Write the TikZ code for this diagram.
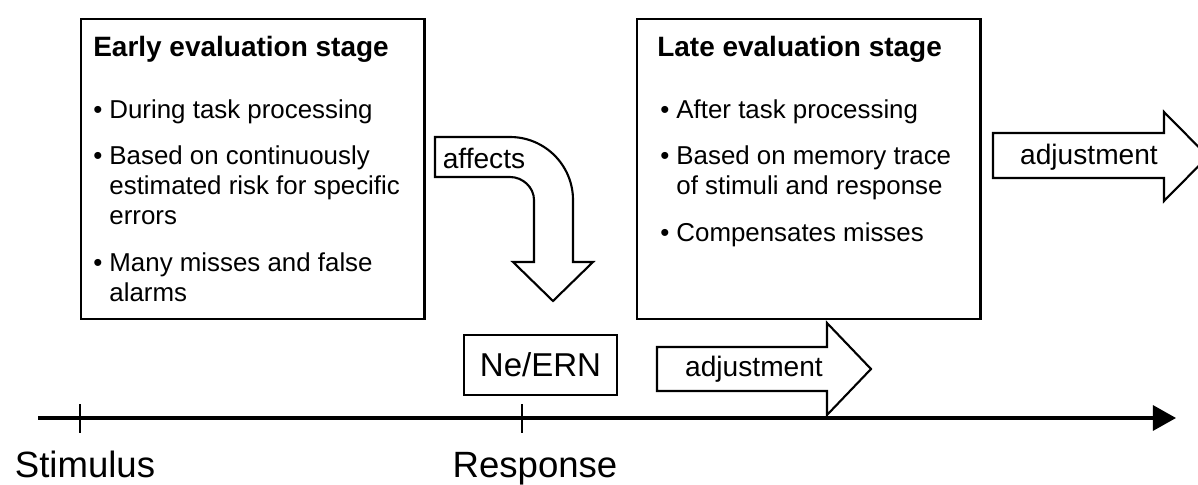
\documentclass[tikz,border=0pt]{standalone}
\usepackage{fontspec}
\setmainfont{Liberation Sans}
\usetikzlibrary{positioning, arrows.meta}

\newcommand{\bul}{\makebox[11.5pt][l]{\textbullet}}
\newcommand{\cont}{\hspace*{11.5pt}}

\tikzset{
  stage box/.style={draw, line width=1.6pt, minimum width=8.58cm, minimum height=7.5cm, anchor=north west, inner sep=0pt},
  stage title/.style={font=\fontsize{19.9}{24}\selectfont\bfseries, anchor=base west, inner sep=0pt},
  stage list/.style={font=\fontsize{18.4}{21.3}\selectfont, align=left, anchor=north west, inner sep=0pt},
  block arrow/.style={draw, line width=1.5pt, fill=white, line join=miter},
  arrow label/.style={font=\fontsize{20}{24}\selectfont, inner sep=0pt},
  event label/.style={font=\fontsize{26}{30}\selectfont, anchor=base, inner sep=0pt},
  time tick/.style={line width=1pt}
}

\begin{document}
\begin{tikzpicture}[x=0.025cm, y=-0.025cm]
  \useasboundingbox (0,0) rectangle (1198,485);

  % Evaluation stages
  \node[stage box] (early) at (80,18) {};
  \node[stage title] (earlyT) at ([shift={(13,39)}]early.north west) {Early evaluation stage};
  \node[stage list] (earlyL) at ([shift={(13,81)}]early.north west)
    {\bul During task processing\\[12pt]
     \bul Based on continuously\\
     \cont estimated risk for specific\\
     \cont errors\\[12pt]
     \bul Many misses and false\\
     \cont alarms};

  \node[stage box] (late) at (636,18) {};
  \node[stage title] (lateT) at ([shift={(21,39)}]late.north west) {Late evaluation stage};
  \node[stage list] (lateL) at ([shift={(24,81)}]late.north west)
    {\bul After task processing\\[12pt]
     \bul Based on memory trace\\
     \cont of stimuli and response\\[12pt]
     \bul Compensates misses};

  % Bent arrow from early stage
  \draw[block arrow] (435,137) -- (510,137)
    .. controls (544.8,137) and (573,165.2) .. (573,200)
    -- (573,262) -- (593,262) -- (553,301) -- (513,262) -- (534,262) -- (534,200)
    .. controls (534,187.3) and (522.7,177) .. (510,177)
    -- (435,177) -- cycle;
  \node[arrow label] (affects) at (484,158) {affects};

  % Adjustment arrows
  \draw[block arrow] (993,133) -- (1164,133) -- (1164,112) -- (1208,156.5)
    -- (1164,201) -- (1164,178) -- (993,178) -- cycle;
  \node[arrow label] (adjUp) at (1089,157) {adjustment};

  \draw[block arrow] (657,347) -- (827,347) -- (827,323) -- (871,369)
    -- (827,415) -- (827,391) -- (657,391) -- cycle;
  \node[arrow label] (adjLow) at (754,369) {adjustment};

  % Ne/ERN
  \node[draw, line width=1.6pt, minimum width=3.83cm, minimum height=1.5cm,
        inner sep=0pt, font=\fontsize{23.5}{28}\selectfont] (ern) at (540.5,365) {Ne/ERN};

  % Time axis
  \coordinate (t0) at (38,418);
  \coordinate (t1) at (1176,418);
  \coordinate (stim) at (80,418);
  \coordinate (resp) at (522,418);
  \draw[line width=2.2pt, -{Triangle[length=16.4pt, width=17.8pt]}] (t0) -- (t1);
  \draw[time tick] (stim) ++(0,-14) -- ++(0,29);
  \draw[time tick] (resp) ++(0,-14) -- ++(0,29);
  \node[event label] (stimL) at ([shift={(5,59)}]stim) {Stimulus};
  \node[event label] (respL) at ([shift={(13,59)}]resp) {Response};
\end{tikzpicture}
\end{document}
